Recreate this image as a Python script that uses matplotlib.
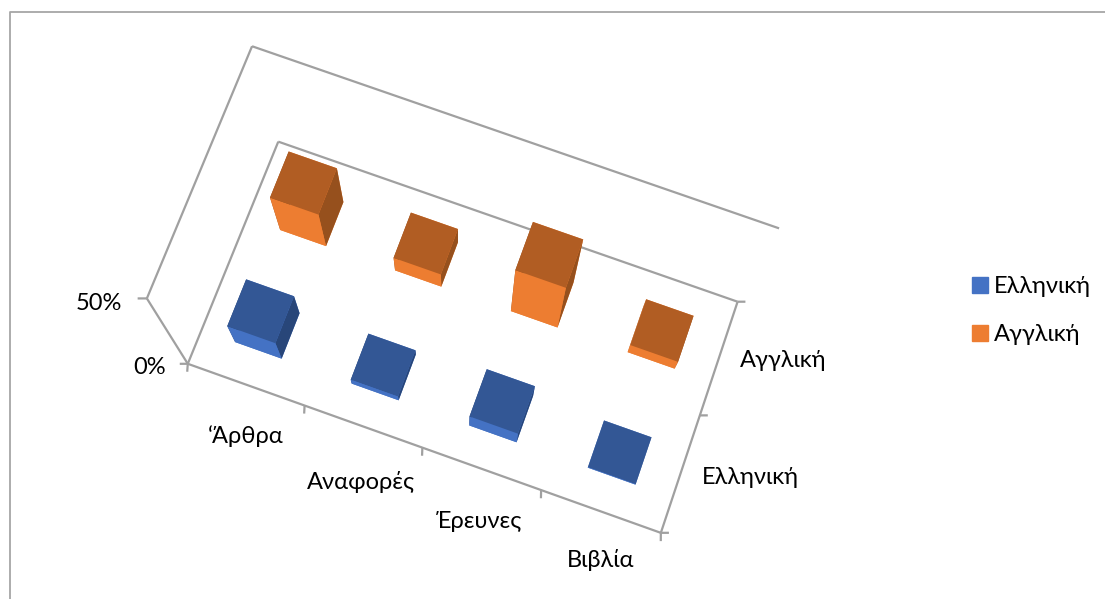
#!/usr/bin/env python3
# plot.py
# 3D bar chart of publication types per language, with an explicit camera
import numpy as np
import matplotlib
matplotlib.use("Agg")
import matplotlib.pyplot as plt
from matplotlib.lines import Line2D
from matplotlib.patches import Patch

plt.rcParams['font.family'] = ['Lato', 'Noto Sans']

categories = ['‘Άρθρα', 'Αναφορές', 'Έρευνες', 'Βιβλία']
series_names = ['Ελληνική', 'Αγγλική']
greek_values = [13, 3.5, 9, 0.5]
english_values = [21, 9, 30, 6]

z_ticks = [0, 50]
z_tick_labels = ['0%', '50%']

W, H = 1105, 599
GRID = '#a0a0a0'
FRONT = ['#4472c4', '#ed7d31']
TOP = ['#335795', '#b15d23']
SIDE = ['#284679', '#96501d']
BAR_W = 0.40

fig = plt.figure(figsize=(W / 100, H / 100), dpi=100, facecolor='white')
ax = fig.add_axes([0, 0, 1, 1], projection='3d')
ax.apply_aspect = lambda position=None: None   # axes must fill the figure
ax.set_axis_off()
ax.patch.set_alpha(0)


def view_xy(px, py):
    return ax.transData.inverted().transform((px, H - py))


# camera: solve the projection from where the chart box corners should land
box_world = [(0, 0, 0), (4, 0, 0), (4, 2, 0), (0, 2, 0),
             (0, 0, 50), (0, 2, 50), (4, 2, 50)]
box_pixels = [(188, 364), (660.5, 533), (738, 301), (278, 142),
              (147, 298), (252, 46), (779, 229)]
rows = []
rhs = []
for (x, y, z), (px, py) in zip(box_world, box_pixels):
    u, v = view_xy(px, py)
    rows.append([x, y, z, 1, 0, 0, 0, 0, -u * x, -u * y, -u * z])
    rhs.append(u)
    rows.append([0, 0, 0, 0, x, y, z, 1, -v * x, -v * y, -v * z])
    rhs.append(v)
p = np.linalg.lstsq(np.array(rows), np.array(rhs), rcond=None)[0]
M = np.array([
    [p[0], p[1], p[2], p[3]],
    [p[4], p[5], p[6], p[7]],
    [-0.1, 1.0, -0.05, -20.0],   # depth only used for face sorting, kept negative
    [p[8], p[9], p[10], 1.0],
])
ax.get_proj = lambda: M
ax.M = M

# bars, one colour per face: bottom, top, front, back, left, right
for s, values in enumerate([greek_values, english_values]):
    xs = np.arange(len(categories)) + 0.49 - BAR_W / 2
    ys = np.full(len(categories), s + 0.495 - BAR_W / 2)
    face_colors = [FRONT[s], TOP[s], FRONT[s], FRONT[s], SIDE[s], SIDE[s]] * len(categories)
    ax.bar3d(xs, ys, np.zeros(len(categories)), BAR_W, BAR_W, values,
             color=face_colors, shade=False, edgecolor='none', linewidth=0)

# chart box
def line3d(a, b):
    ax.plot([a[0], b[0]], [a[1], b[1]], [a[2], b[2]], color=GRID, lw=1.6, solid_capstyle='butt', zorder=0)

line3d((0, 0, 0), (4, 0, 0))
line3d((4, 0, 0), (4, 2, 0))
line3d((4, 2, 0), (0, 2, 0))
line3d((0, 2, 0), (0, 0, 0))
line3d((0, 0, 0), (0, 0, 50))
line3d((0, 0, 50), (0, 2, 50))
line3d((0, 2, 50), (4, 2, 50))

# tick marks run straight down or sideways on screen, so they mix x and y
DOWN = (0.02, -0.062)
RIGHT = (0.06, 0.022)
for i in range(0, 5):
    line3d((i, 0, 0), (i + DOWN[0], DOWN[1], 0))
for s in range(0, 3):
    line3d((4, s, 0), (4 + RIGHT[0], s + RIGHT[1], 0))
line3d((0, 0, 0), (-RIGHT[0], -RIGHT[1], 0))
line3d((0, 0, 50), (-RIGHT[0], -RIGHT[1], 50))

TEXT = dict(fontsize=17, color='black', zorder=10)
cat_label_x = [0.65, 1.64, 2.62, 3.62]
cat_label_y = [-0.385, -0.42, -0.40, -0.365]
for lx, ly, name in zip(cat_label_x, cat_label_y, categories):
    ax.text(lx, ly, 0, name, ha='center', va='center', **TEXT)
series_label_x = [4.53, 4.50]
for s, name in enumerate(series_names):
    ax.text(series_label_x[s], s + 0.66, 0, name, ha='center', va='center', **TEXT)
for z, name in zip(z_ticks, z_tick_labels):
    ax.text(-0.15, -0.09, z, name, ha='right', va='center', **TEXT)

# outer chart frame, cut by the image edge
fig.add_artist(Line2D([10 / W, 10 / W, 1], [0, 1 - 11.5 / H, 1 - 11.5 / H],
                      color='#a6a6a6', lw=1.3))

handles = [Patch(color=FRONT[0]), Patch(color=FRONT[1])]
fig.legend(handles, series_names, loc='upper left', bbox_to_anchor=(965 / W, 1 - 269 / H),
           frameon=False, fontsize=17, handlelength=0.68, handleheight=0.68,
           handletextpad=0.25, labelspacing=1.15, borderpad=0.3, borderaxespad=0)

fig.savefig('out.png', dpi=100)
